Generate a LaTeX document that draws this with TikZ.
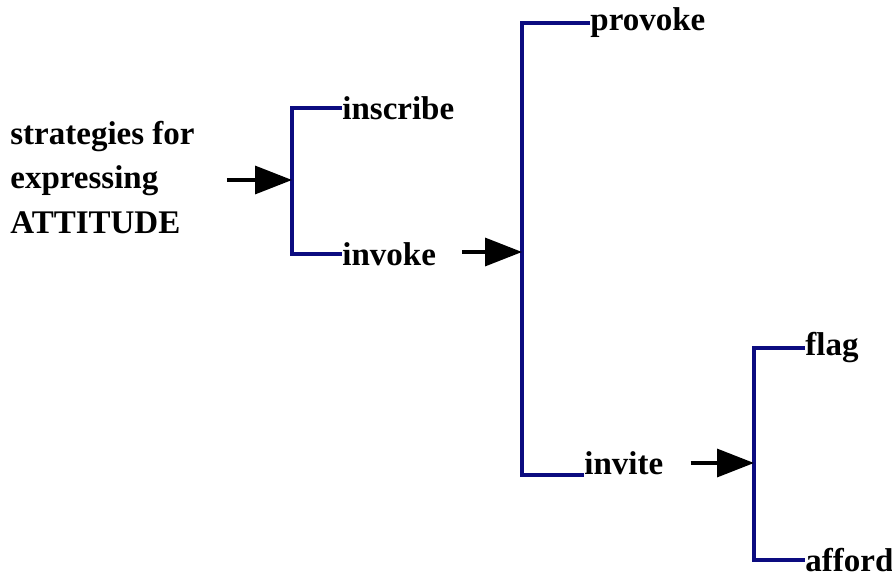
\documentclass[tikz,border=0pt]{standalone}
\usepackage{fontspec}
\setmainfont{Liberation Serif}
\usetikzlibrary{arrows.meta}
\definecolor{forkblue}{RGB}{12,12,128}

\begin{document}
\begin{tikzpicture}[x=0.5pt,y=-0.5pt,
    term/.style={anchor=west,inner sep=0pt,font=\fontsize{16.5}{22}\selectfont\bfseries},
    fork/.style={draw=forkblue,line width=1.9pt},
    feed/.style={draw=black,line width=1.7pt,-{Triangle[length=18.5pt,width=14pt]}}]
  \useasboundingbox (0,0) rectangle (892,577);
  % NODES
  \node[term,anchor=base west,align=left] (attitude) at (10,233) {strategies for\\expressing\\ATTITUDE};
  \node[term] (inscribe) at (342,108) {inscribe};
  \node[term] (invoke)   at (342,254) {invoke};
  \node[term] (provoke)  at (590,23)  {provoke};
  \node[term] (invite)   at (584,463) {invite};
  \node[term] (flag)     at (805,348) {flag};
  \node[term] (afford)   at (805,560) {afford};
  % FORKS
  \coordinate (fork1) at (292,180);
  \coordinate (fork2) at (522,252);
  \coordinate (fork3) at (754,463);
  % PATHS
  \draw[fork] (inscribe.west) -| (fork1) |- (invoke.west);
  \draw[fork] (provoke.west) -| (fork2) |- (invite.south west);
  \draw[fork] (flag.west) -| (fork3) |- (afford.west);
  \draw[feed,shorten <=16pt] (attitude.east |- fork1) -- (fork1);
  \draw[feed,shorten <=13pt] (invoke.east |- fork2) -- (fork2);
  \draw[feed,shorten <=13.5pt] (invite.east |- fork3) -- (fork3);
\end{tikzpicture}
\end{document}
